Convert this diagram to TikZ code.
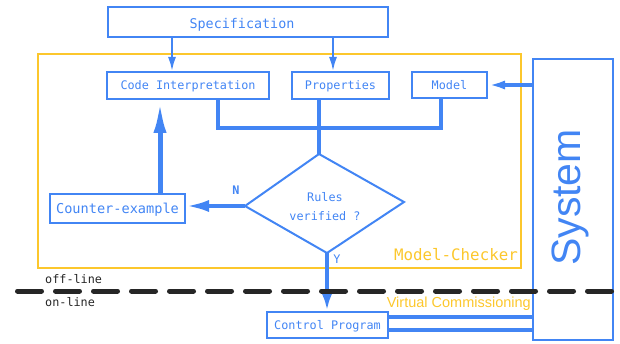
\documentclass[tikz,border=0pt]{standalone}
\usepackage{fontspec}
\setmainfont{Liberation Sans}
\setmonofont{DejaVu Sans Mono}
\usetikzlibrary{arrows.meta}
\definecolor{gblue}{HTML}{4285F4}
\definecolor{gyellow}{HTML}{FCC72C}
\definecolor{gdark}{HTML}{262626}
\begin{document}
\begin{tikzpicture}[x=1pt,y=-1pt,
  box/.style={draw=gblue, line width=2pt, text=gblue, inner sep=0pt,
    text height=8.8pt, text depth=0pt,
    font=\ttfamily\fontsize{11.8}{14}\selectfont},
  thinline/.style={draw=gblue, line width=2pt},
  thickline/.style={draw=gblue, line width=4pt, line join=miter},
  lbl/.style={inner sep=0pt, font=\ttfamily\fontsize{11.8}{14}\selectfont},
]
\useasboundingbox (0,0) rectangle (620,344);

% Model-checker frame
\node[draw=gyellow, line width=2pt, minimum width=483pt, minimum height=214pt, inner sep=0pt] (mc) at (279.5,161) {};
\node[lbl, text=gyellow, anchor=east, font=\ttfamily\fontsize{15.8}{18}\selectfont] (mclbl) at (518,255) {Model-Checker};

% boxes
\node[box, minimum width=280pt, minimum height=30pt, text height=13pt, font=\ttfamily\fontsize{13.4}{15}\selectfont] (spec) at (248,22) {\hspace*{-12pt}Specification};
\node[box, minimum width=162pt, minimum height=27pt] (code) at (188,85.5) {Code Interpretation};
\node[box, minimum width=97pt, minimum height=27pt] (props) at (340.5,85.5) {Properties};
\node[box, minimum width=75pt, minimum height=26pt] (model) at (449.5,85) {Model};
\node[box, minimum width=80pt, minimum height=281pt] (sys) at (573,199.5) {};
\node[text=gblue, rotate=90, inner sep=0pt, font=\fontsize{41}{44}\selectfont] (systxt) at (570,197.5) {System};
\node[box, minimum width=135pt, minimum height=29pt, text height=9.8pt, font=\ttfamily\fontsize{13.6}{15}\selectfont] (counter) at (117.5,208.5) {Counter-example};
\node[box, minimum width=121pt, minimum height=26pt] (ctrl) at (327.5,325) {Control Program};

% diamond
\coordinate (dT) at (319,154);
\coordinate (dL) at (245,206);
\coordinate (dR) at (404,202);
\coordinate (dB) at (327,253);
\draw[thinline, line join=miter] (dT) -- (dR) -- (dB) -- (dL) -- cycle;
\node[lbl, text=gblue, align=center, font=\ttfamily\fontsize{11.8}{19}\selectfont] (dtxt) at (325,206.5) {Rules\\verified ?};

% helper coordinates
\coordinate (xa) at (172,0);
\coordinate (xb) at (333,0);
\coordinate (xc) at (218,0);
\coordinate (xd) at (441,0);
\coordinate (j) at (319,128);
\coordinate (xe) at (160,0);
\coordinate (ya) at (0,317);
\coordinate (yb) at (0,330);
\coordinate (ym) at (0,85);

% connectors
\draw[thinline, -{Latex[length=14pt,width=8pt]}] (spec.south -| xa) -- (code.north -| xa);
\draw[thinline, -{Latex[length=14pt,width=8pt]}] (spec.south -| xb) -- (props.north -| xb);
\draw[thickline] (code.south -| xc) |- (j) -| (model.south -| xd);
\draw[thickline] (props.south -| j) -- (dT);
\draw[thickline, line width=3.5pt, -{Latex[length=17pt,width=9pt]}] (sys.west |- ym) -- (model.east |- ym);
\draw[thickline, -{Latex[length=23pt,width=12pt]}] (dL) -- (counter.east |- dL);
\draw[thickline, line width=5pt, -{Latex[length=33pt,width=13pt]}] (counter.north -| xe) -- (code.south -| xe);
\draw[thickline, -{Latex[length=17pt,width=10pt]}] (dB) -- (ctrl.north -| dB);
\draw[thickline, line width=3.5pt] (ctrl.east |- ya) -- (sys.west |- ya);
\draw[thickline, line width=3.5pt] (ctrl.east |- yb) -- (sys.west |- yb);

\node[lbl, text=gblue, font=\ttfamily\bfseries\fontsize{11.8}{14}\selectfont] (nlbl) at (236,190) {N};
\node[lbl, text=gblue] (ylbl) at (337,259) {Y};

% on/off-line separator
\coordinate (s1) at (17.5,291);
\coordinate (s2) at (613,291);
\draw[gdark, line width=5pt, line cap=round, dash pattern=on 24pt off 14pt] (s1) -- (s2);
\node[lbl, text=gdark, anchor=west] (off) at (45,279) {off-line};
\node[lbl, text=gdark, anchor=west] (on) at (45,302) {on-line};
\node[text=gyellow, anchor=east, inner sep=0pt, font=\fontsize{14.5}{16}\selectfont] (vc) at (531,303.5) {Virtual Commissioning};
\end{tikzpicture}
\end{document}
